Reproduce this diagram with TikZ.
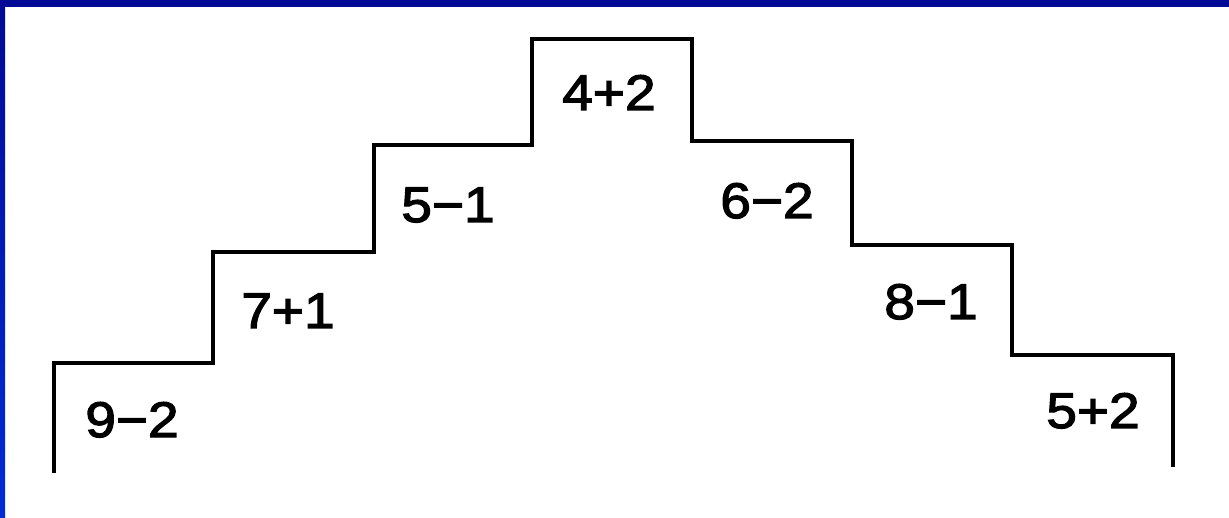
\documentclass[tikz,border=0pt]{standalone}
\usepackage{fontspec}
\newfontfamily\stepfont[FakeStretch=1.1,FakeBold=2.5]{Liberation Sans}
\definecolor{navy}{RGB}{0,10,150}
\definecolor{brightblue}{RGB}{0,45,215}
\begin{document}
\begin{tikzpicture}[x=1pt,y=-1pt,
  lbl/.style={font=\stepfont\fontsize{50}{50}\selectfont, inner sep=0pt, anchor=base},
  stair/.style={line width=3.3pt, line join=miter, draw=black}]
\useasboundingbox (0,0) rectangle (1229,518);
\fill[white] (0,0) rectangle (1229,518);
\shade[top color=navy, bottom color=brightblue] (0,0) rectangle (5,518);
\fill[navy] (0,0) rectangle (1229,7);
% staircase corners
\coordinate (p0) at (54,473);
\coordinate (p1) at (54,363);
\coordinate (p2) at (213,363);
\coordinate (p3) at (213,252);
\coordinate (p4) at (374,252);
\coordinate (p5) at (374,145);
\coordinate (p6) at (532,145);
\coordinate (p7) at (532,39);
\coordinate (p8) at (692,39);
\coordinate (p9) at (692,141);
\coordinate (p10) at (852,141);
\coordinate (p11) at (852,245);
\coordinate (p12) at (1012,245);
\coordinate (p13) at (1012,355);
\coordinate (p14) at (1173,355);
\coordinate (p15) at (1173,467);
\draw[stair] (p0) -- (p1) -- (p2) -- (p3) -- (p4) -- (p5) -- (p6) -- (p7) -- (p8)
  -- (p9) -- (p10) -- (p11) -- (p12) -- (p13) -- (p14) -- (p15);
% labels
\node[lbl] (t1) at (132,437) {9−2};
\node[lbl] (t2) at (288,328) {7+1};
\node[lbl] (t3) at (448,222) {5−1};
\node[lbl] (t4) at (609,110) {4+2};
\node[lbl] (t5) at (767,218) {6−2};
\node[lbl] (t6) at (931,319) {8−1};
\node[lbl] (t7) at (1093,428) {5+2};
\end{tikzpicture}
\end{document}
